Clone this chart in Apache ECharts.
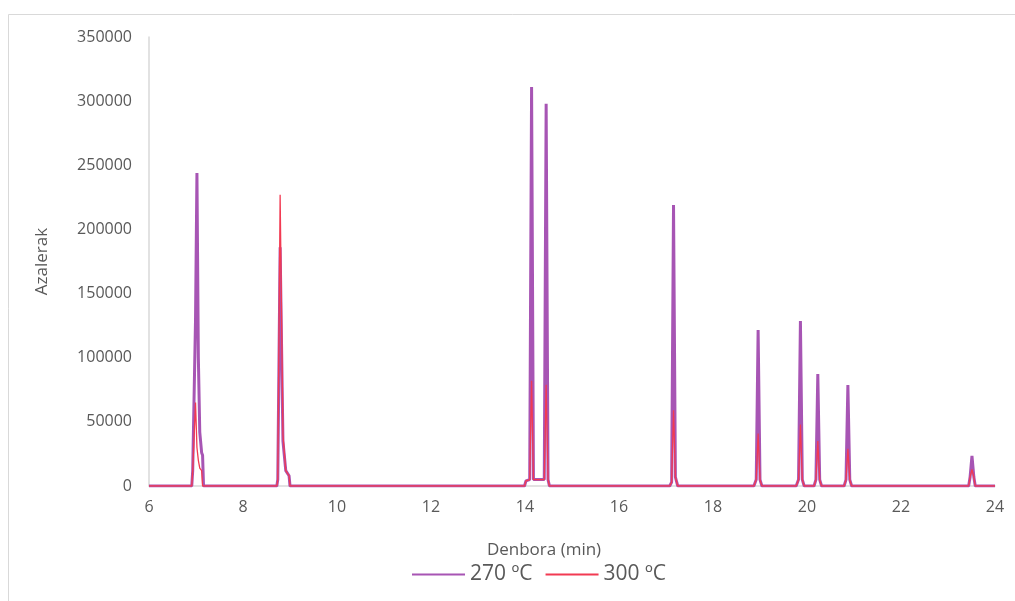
<!DOCTYPE html>
<html>
<head>
<meta charset="utf-8">
<script src="https://cdn.jsdelivr.net/npm/echarts@6/dist/echarts.min.js"></script>
<style>
  html, body { margin: 0; padding: 0; background: #fff; }
  #chart { width: 1015px; height: 601px; }
</style>
</head>
<body>
<div id="chart"></div>
<script>
// retention time (min), shared by both traces
const times = [
  6.00, 6.91, 6.93, 6.99, 7.02, 7.05, 7.08, 7.12, 7.14, 7.16,
  8.72, 8.74, 8.79, 8.85, 8.91, 8.98, 9.00,
  13.99, 14.02, 14.10, 14.14, 14.18, 14.41, 14.45, 14.49, 14.52,
  17.08, 17.12, 17.16, 17.20, 17.23, 17.25,
  18.87, 18.92, 18.96, 19.00, 19.04,
  19.77, 19.82, 19.86, 19.90, 19.94,
  20.15, 20.19, 20.23, 20.27, 20.31,
  20.79, 20.83, 20.87, 20.91, 20.95,
  23.44, 23.47, 23.51, 23.55, 23.58, 24.00
]
const v270 = [
  0, 0, 12000, 130000, 244000, 100000, 42000, 26000, 24000, 0,
  0, 5000, 186000, 35000, 12000, 8000, 0,
  0, 4000, 5000, 311000, 5000, 5000, 298000, 5000, 0,
  0, 3000, 219000, 7000, 6000, 0,
  0, 5000, 121600, 5000, 0,
  0, 5000, 128600, 5000, 0,
  0, 5000, 87300, 5000, 0,
  0, 5000, 78700, 5000, 0,
  0, 7000, 23400, 7000, 0, 0
]
const v300 = [
  0, 0, 12000, 65000, 30000, 20000, 14000, 12000, 0, 0,
  0, 5000, 227000, 40000, 12000, 8000, 0,
  0, 4000, 5000, 82000, 5000, 5000, 79000, 5000, 0,
  0, 3000, 59000, 7000, 6000, 0,
  0, 5000, 41000, 5000, 0,
  0, 5000, 48000, 5000, 0,
  0, 5000, 35000, 5000, 0,
  0, 5000, 29000, 5000, 0,
  0, 7000, 13000, 7000, 0, 0
]
const seriesNames = ['270 ºC', '300 ºC']

const textColor = '#595959'
const font = '"Open Sans", sans-serif'

const chart = echarts.init(document.getElementById('chart'))
chart.setOption({
  animation: false,
  backgroundColor: '#fff',
  graphic: [{
    type: 'rect',
    shape: { x: 8.5, y: 14.5, width: 1100, height: 700 },
    style: { fill: 'none', stroke: '#d9d9d9', lineWidth: 1 },
    silent: true
  }],
  grid: { left: 149, right: 20, top: 37, bottom: 115 },
  legend: {
    data: seriesNames,
    bottom: 11,
    left: 406,
    itemWidth: 53,
    itemHeight: 12,
    itemGap: 12,
    itemStyle: { opacity: 0 },
    textStyle: { color: textColor, fontSize: 21, fontFamily: font }
  },
  xAxis: {
    type: 'value',
    min: 6,
    max: 24,
    interval: 2,
    name: 'Denbora (min)',
    nameLocation: 'middle',
    nameGap: 56,
    nameTextStyle: { color: textColor, fontSize: 17, fontFamily: font, padding: [0, 56, 0, 0] },
    axisLine: { show: true, lineStyle: { color: '#d9d9d9', width: 1.5 } },
    axisTick: { show: false },
    axisLabel: { color: textColor, fontSize: 16, fontFamily: font, margin: 13 },
    splitLine: { show: false }
  },
  yAxis: {
    type: 'value',
    min: 0,
    max: 350000,
    interval: 50000,
    name: 'Azalerak',
    nameLocation: 'middle',
    nameGap: 98,
    nameTextStyle: { color: textColor, fontSize: 17, fontFamily: font },
    axisLine: { show: true, lineStyle: { color: '#d9d9d9', width: 1.5 } },
    axisTick: { show: false },
    axisLabel: { color: textColor, fontSize: 16, fontFamily: font, margin: 17, formatter: v => String(v) },
    splitLine: { show: false }
  },
  series: [
    {
      name: seriesNames[0],
      type: 'line',
      data: times.map((t, i) => [t, v270[i]]),
      showSymbol: false,
      symbol: 'none',
      color: '#a755b4',
      lineStyle: { color: '#a755b4', width: 3 }
    },
    {
      name: seriesNames[1],
      type: 'line',
      data: times.map((t, i) => [t, v300[i]]),
      showSymbol: false,
      symbol: 'none',
      color: '#f23a52',
      lineStyle: { color: '#f23a52', width: 1.3 }
    }
  ]
})
</script>
</body>
</html>
